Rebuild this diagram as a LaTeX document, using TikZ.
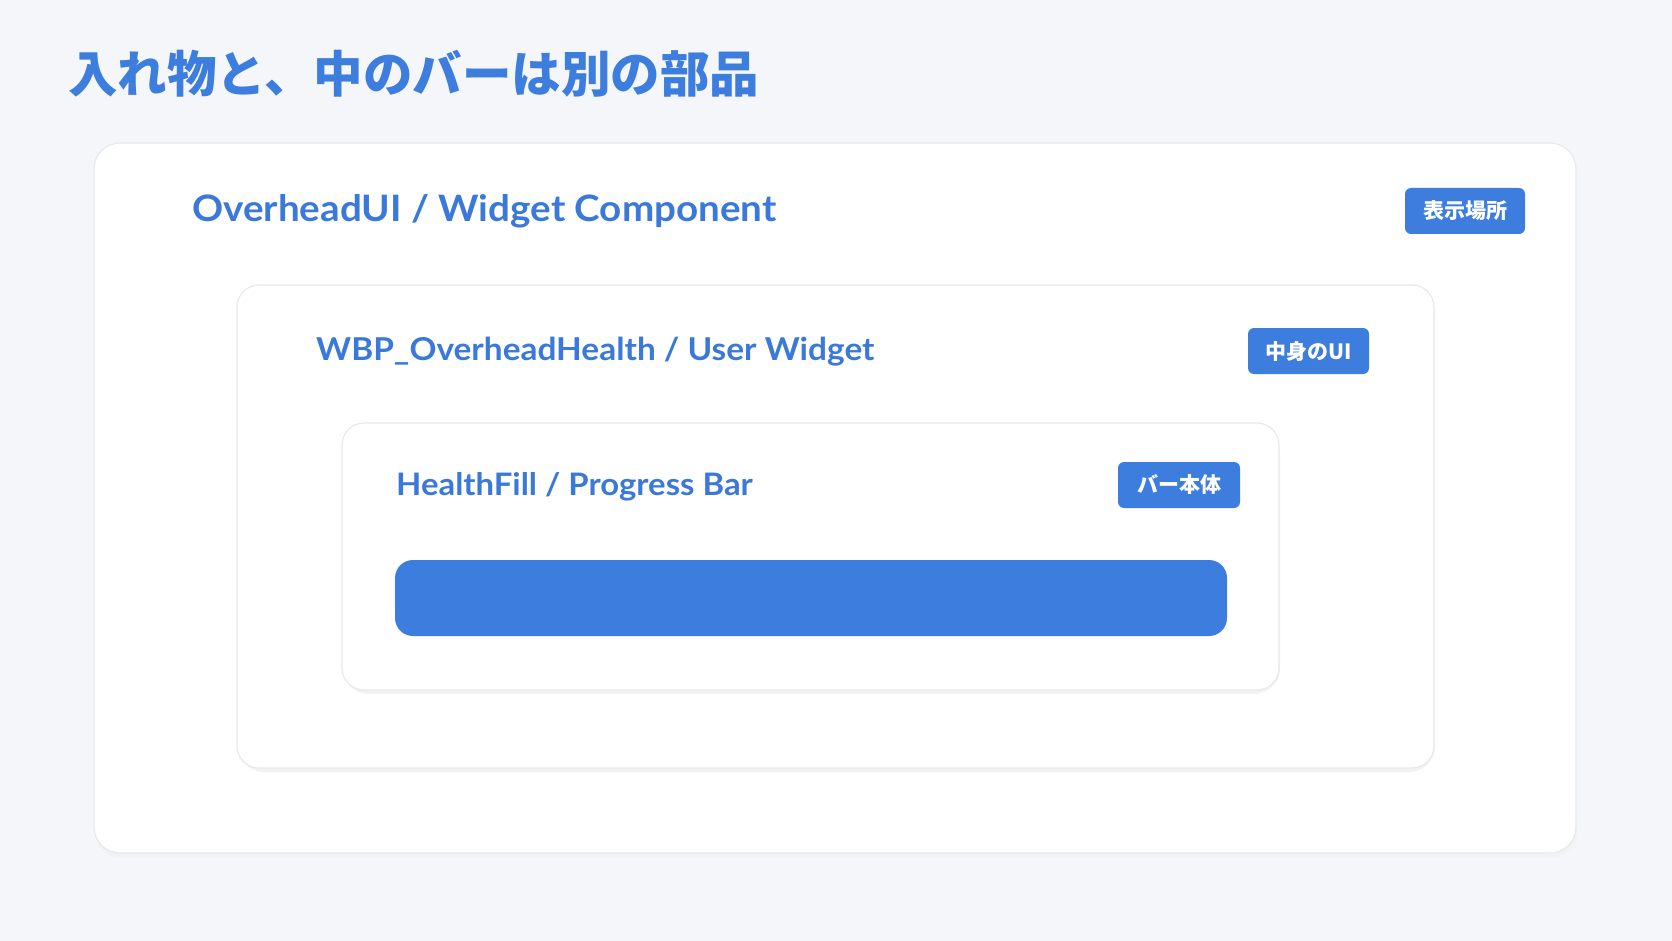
\documentclass[tikz,border=0pt]{standalone}
\usepackage{fontspec}
\setmainfont{Lato}[FakeStretch=1.06]
\newfontfamily\jpfont{Noto Sans CJK JP}
\usetikzlibrary{positioning,calc}

\definecolor{pagebg}{HTML}{F4F6F9}
\definecolor{boxline}{HTML}{E6E9EE}
\definecolor{uiblue}{HTML}{3C7DDE}
\definecolor{textblue}{HTML}{3A79D9}

\tikzset{
  panel/.style={draw=boxline, line width=1.2pt, fill=white, rounded corners=26pt},
  panelshadow/.style={fill=black!5, rounded corners=26pt},
  label/.style={anchor=base west, inner sep=0pt, text=textblue, font=\bfseries},
  badge/.style={fill=uiblue, text=white, rounded corners=6pt, inner sep=0pt,
    minimum height=46pt, font=\jpfont\bfseries\fontsize{21}{21}\selectfont}
}

\begin{document}
\begin{tikzpicture}[x=1pt,y=-1pt]
  % page
  \fill[pagebg] (0,0) rectangle (1672,941);
  \useasboundingbox (0,0) rectangle (1672,941);

  % title
  \node[anchor=base west, inner sep=0pt, text=uiblue,
    font=\jpfont\bfseries\fontsize{49.5}{49.5}\selectfont] (title) at (68,93) {入れ物と、中のバーは別の部品};

  % outer box: widget component
  \fill[panelshadow] (95,147) rectangle (1577,857);
  \draw[panel] (94,143) rectangle (1576,853);
  \node[label, font=\bfseries\fontsize{36.4}{36.4}\selectfont] (outerlbl) at (192,222) {OverheadUI / Widget Component};
  \node[badge, minimum width=120pt] (outertag) at (1465,211) {表示場所};

  % middle box: user widget
  \fill[panelshadow] (238,289) rectangle (1435,772);
  \draw[panel, rounded corners=22pt] (237,285) rectangle (1434,768);
  \node[label, font=\bfseries\fontsize{31.5}{31.5}\selectfont] (midlbl) at (316,360) {WBP\_OverheadHealth / User Widget};
  \node[badge, minimum width=121pt] (midtag) at (1308.5,351) {中身のUI};

  % inner box: progress bar
  \fill[panelshadow] (343,427) rectangle (1280,694);
  \draw[panel, rounded corners=22pt] (342,423) rectangle (1279,690);
  \node[label, font=\bfseries\fontsize{31}{31}\selectfont] (innerlbl) at (396,495) {HealthFill / Progress Bar};
  \node[badge, minimum width=122pt] (innertag) at (1179,485) {バー本体};

  % the fill bar itself
  \fill[uiblue, rounded corners=18pt] (395,560) rectangle (1227,636);
\end{tikzpicture}
\end{document}
